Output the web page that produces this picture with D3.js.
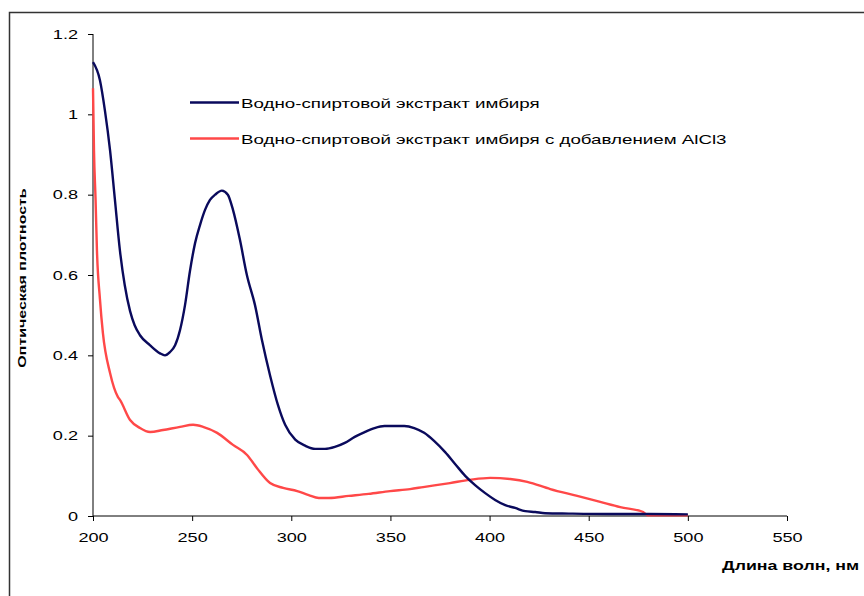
<!DOCTYPE html>
<html>
<head>
<meta charset="utf-8">
<script src="https://cdn.jsdelivr.net/npm/d3@7"></script>
<style>
  body { margin: 0; background: #fff; }
  svg { display: block; font-family: "Liberation Sans", Arial, sans-serif; }
  .tick text { font-size: 12.5px; fill: #000; }
  .axisTitle { font-weight: bold; fill: #000; }
  .legendText { font-size: 12.5px; fill: #000; }
</style>
</head>
<body>
<div id="chart"></div>
<script>
const WIDTH = 864;
const HEIGHT = 596;
const X_TICKS = [200, 250, 300, 350, 400, 450, 500, 550];
const Y_TICKS = [0, 0.2, 0.4, 0.6, 0.8, 1, 1.2];
const SERIES_NAMES = ["Водно-спиртовой экстракт имбиря", "Водно-спиртовой экстракт имбиря с добавлением AlCl3"];
const SERIES_COLORS = ["#0a0a5c", "#ff4848"];
const TEXT_STRETCH = 1.45; // the original's lettering is wide

// ginger extract, wavelength (nm)
const extractX = [200, 203.5, 206, 208.6, 211, 213.6, 216, 218.7, 221, 223.7, 228.8, 233.8, 236.3, 238.8,
  241.4, 243.9, 246.4, 248.9, 251.5, 254, 256.5, 259, 261.6, 265, 268, 270.6, 274, 277.6, 281.7, 285.2,
  289.3, 293.3, 296.9, 302, 307, 312, 317, 322, 327, 332, 337, 342, 347, 352, 357, 362, 367, 372, 377.6,
  382.7, 387.7, 392.7, 397.8, 402.8, 407.9, 412.9, 418, 423, 428, 440, 460, 480, 500];
const extractY = [1.13, 1.085, 1.01, 0.91, 0.79, 0.66, 0.575, 0.51, 0.475, 0.45, 0.425, 0.405, 0.40, 0.408,
  0.425, 0.463, 0.525, 0.61, 0.68, 0.725, 0.762, 0.787, 0.80, 0.81, 0.80, 0.762, 0.69, 0.60, 0.525, 0.438,
  0.35, 0.276, 0.227, 0.19, 0.175, 0.167, 0.167, 0.172, 0.182, 0.197, 0.209, 0.219, 0.224, 0.224, 0.224,
  0.219, 0.207, 0.187, 0.159, 0.129, 0.10, 0.077, 0.057, 0.040, 0.027, 0.020, 0.012, 0.010, 0.007, 0.006,
  0.005, 0.005, 0.004];

// ginger extract with AlCl3
const alclX = [200, 200.5, 201.3, 202, 203.5, 205, 208.6, 212.6, 213.6, 218.7, 223.7, 228.8, 235.3, 243.9,
  250.5, 255.5, 262.6, 270.6, 277.7, 282.7, 289.3, 295.9, 303, 308.8, 313.9, 319, 329, 339, 349.8, 359.9,
  366.5, 380, 390, 400.3, 410.4, 419, 430.6, 444.2, 455.8, 465.9, 477.5, 479.5, 500];
const alclY = [1.065, 0.91, 0.787, 0.66, 0.54, 0.455, 0.356, 0.296, 0.289, 0.239, 0.219, 0.209, 0.214, 0.222,
  0.227, 0.222, 0.207, 0.177, 0.152, 0.119, 0.082, 0.070, 0.062, 0.052, 0.045, 0.045, 0.05, 0.055, 0.062, 0.067,
  0.072, 0.082, 0.09, 0.095, 0.092, 0.085, 0.067, 0.05, 0.035, 0.022, 0.01, 0.002, 0.002];

const svg = d3.select("#chart").append("svg")
    .attr("width", WIDTH)
    .attr("height", HEIGHT);

// outer frame (runs off the right and bottom edges)
svg.append("rect")
    .attr("x", 9.5).attr("y", 12.5)
    .attr("width", 900).attr("height", 700)
    .attr("fill", "none")
    .attr("stroke", "#333")
    .attr("stroke-width", 1.5);

let x = d3.scaleLinear().domain([200, 550]).range([93, 787]);
let y = d3.scaleLinear().domain([0, 1.2]).range([516, 34]);

const xAxis = d3.axisBottom(x).tickValues(X_TICKS).tickSize(5).tickPadding(12).tickFormat(d3.format("d"));
const yAxis = d3.axisLeft(y).tickValues(Y_TICKS).tickSize(5).tickPadding(10).tickFormat(d => d);

// widen tick labels around their anchor point
const stretchTickText = (g) => {
    g.selectAll(".tick text").each(function () {
        let t = d3.select(this);
        let tx = +(t.attr("x") || 0);
        let ty = +(t.attr("y") || 0);
        t.attr("x", 0).attr("y", 0)
            .attr("transform", `translate(${tx},${ty}) scale(${TEXT_STRETCH},1)`);
    });
}

svg.append("g")
    .attr("transform", "translate(0,516)")
    .call(xAxis)
    .call(g => g.select(".domain").attr("stroke", "#000").attr("d", "M93,0H787"))
    .call(stretchTickText);

svg.append("g")
    .attr("transform", "translate(93,0)")
    .call(yAxis)
    .call(g => g.select(".domain").attr("stroke", "#000").attr("d", "M0,34V516"))
    .call(stretchTickText);

svg.selectAll(".tick line").attr("stroke", "#000");

const lineGen = d3.line()
    .x(d => x(d[0]))
    .y(d => y(d[1]))
    .curve(d3.curveMonotoneX);

const drawSeries = (xs, ys, color) => {
    svg.append("path")
        .datum(xs.map((v, i) => [v, ys[i]]))
        .attr("d", lineGen)
        .attr("fill", "none")
        .attr("stroke", color)
        .attr("stroke-width", 2.4)
        .attr("stroke-linejoin", "round");
}

drawSeries(alclX, alclY, SERIES_COLORS[1]);
drawSeries(extractX, extractY, SERIES_COLORS[0]);

// legend
SERIES_NAMES.forEach((name, i) => {
    let ly = 102.5 + i * 36;
    svg.append("line")
        .attr("x1", 190).attr("x2", 239)
        .attr("y1", ly).attr("y2", ly)
        .attr("stroke", SERIES_COLORS[i])
        .attr("stroke-width", 2.4);
    svg.append("text")
        .attr("class", "legendText")
        .attr("transform", `translate(241,${ly + 5}) scale(1.5,1)`)
        .text(name);
});

// axis titles
svg.append("text")
    .attr("class", "axisTitle")
    .attr("font-size", 11)
    .attr("transform", `translate(26,278) rotate(-90) scale(${TEXT_STRETCH},1)`)
    .attr("text-anchor", "middle")
    .text("Оптическая плотность");

svg.append("text")
    .attr("class", "axisTitle")
    .attr("font-size", 12.5)
    .attr("transform", "translate(722,570) scale(1.42,1)")
    .text("Длина волн, нм");
</script>
</body>
</html>
